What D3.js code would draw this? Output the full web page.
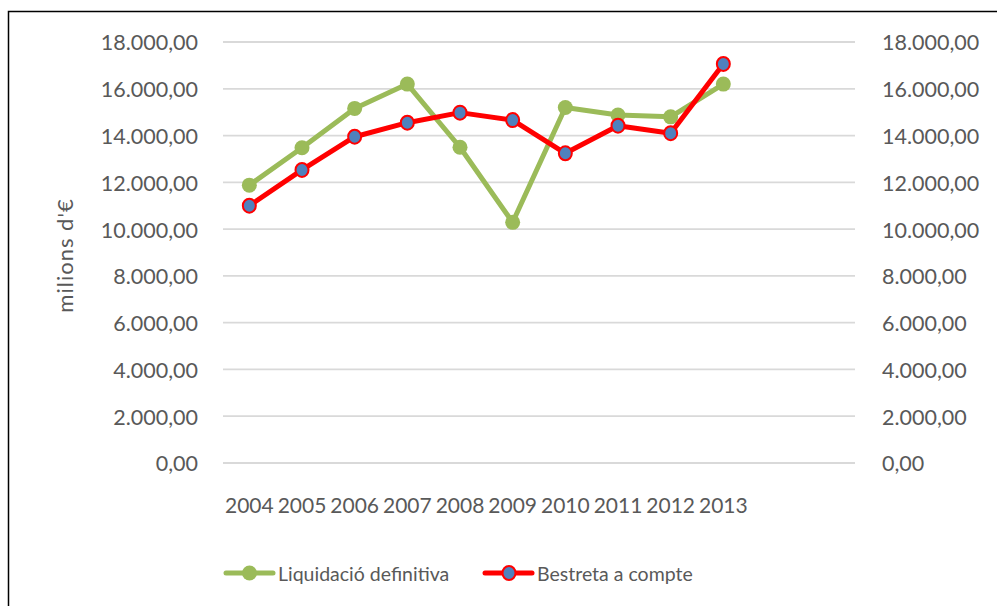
<!DOCTYPE html>
<html><head><meta charset="utf-8">
<script src="https://cdn.jsdelivr.net/npm/d3@7"></script>
<style>body{margin:0;background:#fff}svg{display:block}text{font-family:Lato,"Open Sans",sans-serif;fill:#595959}</style>
</head><body><svg id="c" width="997" height="606"></svg>
<script>
const categories = ["2004","2005","2006","2007","2008","2009","2010","2011","2012","2013","",""];
const liquidacio = [11880,13480,15160,16200,13500,10290,15200,14880,14800,16200];
const bestreta = [11000,12530,13950,14550,14980,14660,13240,14420,14100,17060];
const yTicks = [0,2000,4000,6000,8000,10000,12000,14000,16000,18000];
const seriesNames = ["Liquidació definitiva","Bestreta a compte"];

const svg = d3.select("#c");
svg.append("rect").attr("x",8.5).attr("y",11.5).attr("width",1000).attr("height",700)
  .attr("fill","#fff").attr("stroke","#000").attr("stroke-width",1.5);

const L=223, R=855, T=42, B=463;
const x = d3.scaleBand().domain(categories.map((c,i)=>i)).range([L,R]);
const y = d3.scaleLinear().domain([0,18000]).range([B,T]);
const fmt = v => d3.formatLocale({decimal:",",thousands:".",grouping:[3],currency:["","€"]}).format(",.2f")(v);

// grid
svg.append("g").selectAll("line").data(yTicks).join("line")
  .attr("x1",L).attr("x2",R).attr("y1",d=>y(d)).attr("y2",d=>y(d))
  .attr("stroke","#d9d9d9").attr("stroke-width",1.8);

// left axis
const ga = svg.append("g").attr("transform",`translate(${L},1)`)
  .call(d3.axisLeft(y).tickValues(yTicks).tickFormat(fmt).tickSize(0).tickPadding(25));
ga.select(".domain").remove();
ga.selectAll("text").style("font-size","21.5px").style("font-family","Lato").attr("fill","#595959");
const gb = svg.append("g").attr("transform",`translate(${R},1)`)
  .call(d3.axisRight(y).tickValues(yTicks).tickFormat(fmt).tickSize(0).tickPadding(27));
gb.select(".domain").remove();
gb.selectAll("text").style("font-size","21.5px").style("font-family","Lato").attr("fill","#595959");

// x axis
const gx = svg.append("g").attr("transform",`translate(0,${B})`)
  .call(d3.axisBottom(x).tickFormat(i=>categories[i]).tickSize(0).tickPadding(35));
gx.select(".domain").remove();
gx.selectAll("text").style("font-size","21px").style("font-family","Lato").attr("fill","#595959");

// y title
svg.append("text").attr("transform",`translate(73,255.5) rotate(-90)`)
  .attr("text-anchor","middle").style("font-size","22px").style("letter-spacing","1px").text("milions d'€");

const cx = i => x(i)+x.bandwidth()/2;
const line = d3.line().x((d,i)=>cx(i)).y(d=>y(d));

svg.append("path").datum(liquidacio).attr("d",line).attr("fill","none")
  .attr("stroke","#9bbb59").attr("stroke-width",5).attr("stroke-linejoin","round");
svg.append("g").selectAll("circle").data(liquidacio).join("circle")
  .attr("cx",(d,i)=>cx(i)).attr("cy",d=>y(d)).attr("r",7.5).attr("fill","#9bbb59");

svg.append("path").datum(bestreta).attr("d",line).attr("fill","none")
  .attr("stroke","#ff0000").attr("stroke-width",5).attr("stroke-linejoin","round");
svg.append("g").selectAll("ellipse").data(bestreta).join("ellipse")
  .attr("cx",(d,i)=>cx(i)).attr("cy",d=>y(d)).attr("rx",6.5).attr("ry",7)
  .attr("fill","#4f81bd").attr("stroke","#ff0000").attr("stroke-width",2);

// legend
const leg = svg.append("g");
const ly = 573;
leg.append("line").attr("x1",226).attr("x2",273).attr("y1",ly).attr("y2",ly).attr("stroke","#9bbb59").attr("stroke-width",5).attr("stroke-linecap","round");
leg.append("circle").attr("cx",249.5).attr("cy",ly).attr("r",7.5).attr("fill","#9bbb59");
leg.append("text").attr("x",278).attr("y",ly+7.5).style("font-size","19.5px").text(seriesNames[0]);
leg.append("line").attr("x1",485).attr("x2",532).attr("y1",ly).attr("y2",ly).attr("stroke","#ff0000").attr("stroke-width",5).attr("stroke-linecap","round");
leg.append("ellipse").attr("cx",509).attr("cy",ly).attr("rx",6.5).attr("ry",7).attr("fill","#4f81bd").attr("stroke","#ff0000").attr("stroke-width",2);
leg.append("text").attr("x",537).attr("y",ly+7.5).style("font-size","19.5px").text(seriesNames[1]);
</script></body></html>
